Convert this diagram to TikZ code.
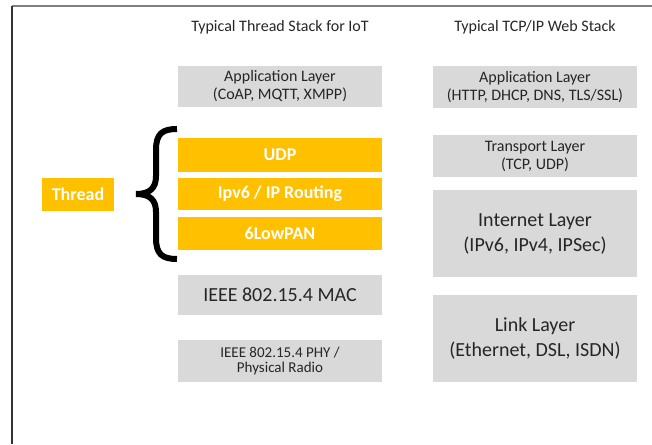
\documentclass[tikz,border=0pt]{standalone}
\usepackage{fontspec}
\setmainfont{Carlito}
\definecolor{layergray}{HTML}{D9D9D9}
\definecolor{threadorange}{HTML}{FFC000}
\definecolor{textgray}{HTML}{262626}
\begin{document}
\begin{tikzpicture}[x=1pt,y=-1pt,
    layer/.style={fill=layergray,text=textgray,align=center,inner sep=0pt,
        minimum width=204pt,font=\fontsize{16}{18}\selectfont},
    biglayer/.style={layer,font=\fontsize{20}{25}\selectfont},
    thread/.style={fill=threadorange,text=white,align=center,inner sep=0pt,
        font=\bfseries\fontsize{18}{20}\selectfont},
    stacktitle/.style={text=textgray,font=\fontsize{16}{18}\selectfont}]
        \useasboundingbox (0,0) rectangle (652,444);

        % Frame
        \draw[gray,line width=1.5pt] (12,6) -- (652,6);
        \draw[black!80,line width=1.5pt] (12,6) -- (12,444);

        % Titles
        \node[stacktitle] (titleL) at (280,27) {Typical Thread Stack for IoT};
        \node[stacktitle] (titleR) at (535,27) {Typical TCP/IP Web Stack};

        % Thread stack
        \node[layer,minimum height=41pt] (appL) at (280,86.5) {Application Layer\\(CoAP, MQTT, XMPP)};
        \node[thread,minimum width=204pt,minimum height=34pt] (udp) at (280,155) {UDP};
        \node[thread,minimum width=204pt,minimum height=32pt] (ipv6) at (280,194) {Ipv6 / IP Routing};
        \node[thread,minimum width=204pt,minimum height=33pt] (lowpan) at (280,233.5) {6LowPAN};
        \node[biglayer,minimum height=40pt] (mac) at (280,295) {IEEE 802.15.4 MAC};
        \node[layer,minimum height=42pt,font=\fontsize{15}{15}\selectfont] (phy) at (280,361) {IEEE 802.15.4 PHY /\\Physical Radio};

        % TCP/IP stack
        \node[layer,minimum height=42pt] (appR) at (535,87) {Application Layer\\(HTTP, DHCP, DNS, TLS/SSL)};
        \node[layer,minimum height=42pt] (transport) at (535,156) {Transport Layer\\(TCP, UDP)};
        \node[biglayer,minimum height=87pt] (internet) at (535,233.5) {Internet Layer\\(IPv6, IPv4, IPSec)};
        \node[biglayer,minimum height=87pt] (link) at (535,338.5) {Link Layer\\(Ethernet, DSL, ISDN)};

        % Thread label and brace
        \node[thread,minimum width=72pt,minimum height=33pt] (threadlbl) at (78,194.5) {Thread};
        \draw[line width=6pt] (177,129) .. controls (162,129) and (156,134) .. (156,150)
            -- (156,176) .. controls (156,188) and (150,194) .. (136,194)
            .. controls (150,194) and (156,200) .. (156,212)
            -- (156,238) .. controls (156,254) and (162,259) .. (177,259);
\end{tikzpicture}
\end{document}
